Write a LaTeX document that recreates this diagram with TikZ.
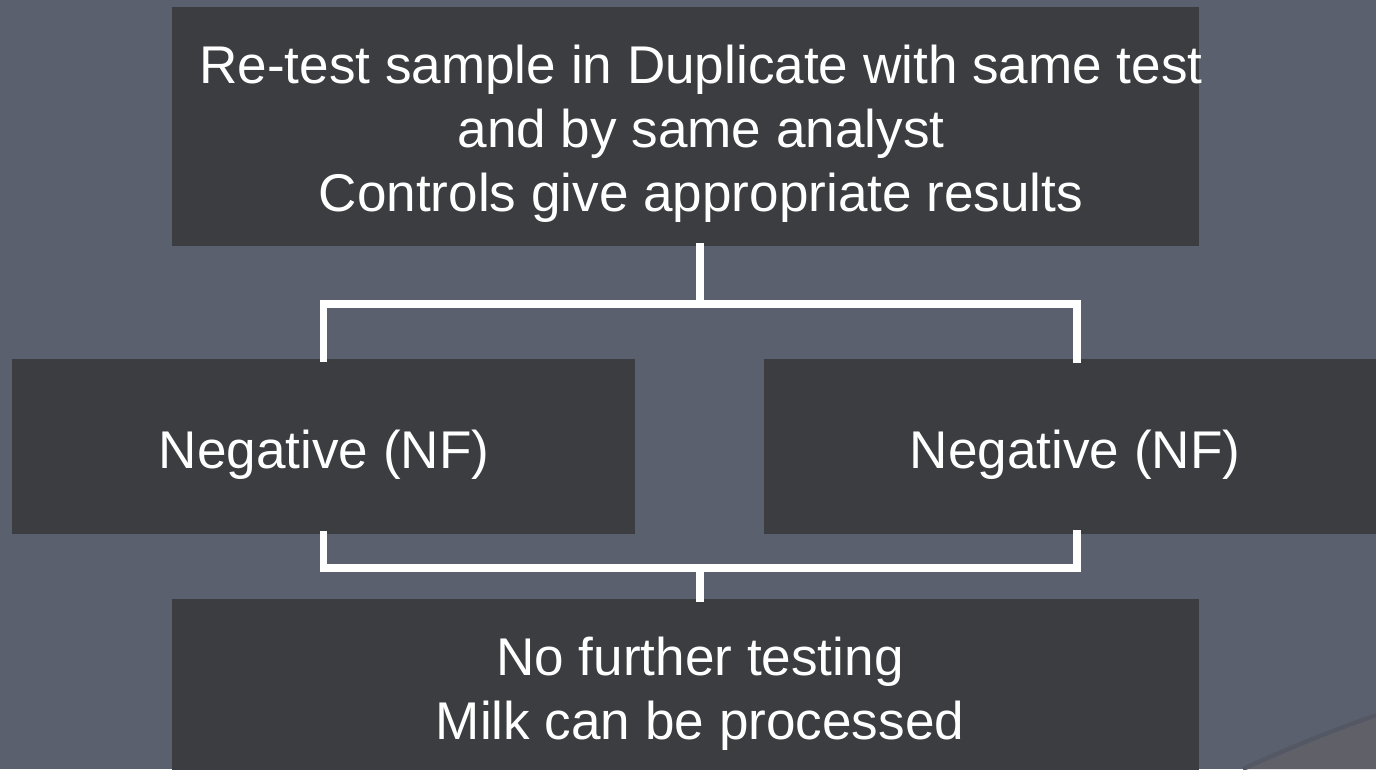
\documentclass[tikz,border=0pt]{standalone}
\usepackage{fontspec}
\setmainfont{Liberation Sans}
\definecolor{slide}{HTML}{5A606D}
\definecolor{boxgray}{HTML}{3C3D41}
\definecolor{swoosh}{HTML}{5F6068}
\definecolor{swooshedge}{HTML}{535864}
\begin{document}
\begin{tikzpicture}
            [
            x = 0.01cm, y = -0.01cm,
            every node/.style = {font=\fontsize{15.1}{18.2}\selectfont},
            ]
            \tikzstyle{box node}=[rectangle,fill=boxgray,inner sep=0]
            \tikzstyle{text node}=[text=white,align=center,inner sep=0]
            \tikzstyle{link}=[draw=white,line width=7.5pt*0.2845,line cap=rect]

            % slide background
            \fill[slide] (0,0) rectangle (1376,769);
            \useasboundingbox (0,0) rectangle (1376,769);
            \fill[swoosh] (1376,715) .. controls (1320,735) and (1280,752) .. (1243,769) -- (1376,769) -- cycle;
            \draw[swooshedge,line width=1.2pt] (1376,715) .. controls (1320,735) and (1280,752) .. (1243,769);

            % boxes
            \node[box node,minimum width=10.27cm,minimum height=2.39cm] (retest) at (685.5,126.5) {};
            \node[box node,minimum width=6.23cm,minimum height=1.75cm] (neg left) at (323.5,446.5) {};
            \node[box node,minimum width=6.12cm,minimum height=1.75cm] (neg right) at (1070,446.5) {};
            \node[box node,minimum width=10.27cm,minimum height=1.72cm] (done) at (685.5,685) {};

            % texts
            \node[text node] (retest text) at (701,134) {Re-test sample in Duplicate with same test\\and by same analyst\\Controls give appropriate results};
            \node[text node] (neg left text) at (324,455) {Negative (NF)};
            \node[text node] (neg right text) at (1075,455) {Negative (NF)};
            \node[text node] (done text) at (700,694) {No further testing\\Milk can be processed};

            % connectors
            \coordinate (split) at (700,304);
            \coordinate (join) at (700,568);
            \draw[link] (retest.south -| split) -- (split);
            \draw[link] (neg left.north) |- (split) -| (1077,359);
            \draw[link] (neg left.south) |- (join) -| (1077,534);
            \draw[link] (join) -- (done.north -| join);
        \end{tikzpicture}
\end{document}
